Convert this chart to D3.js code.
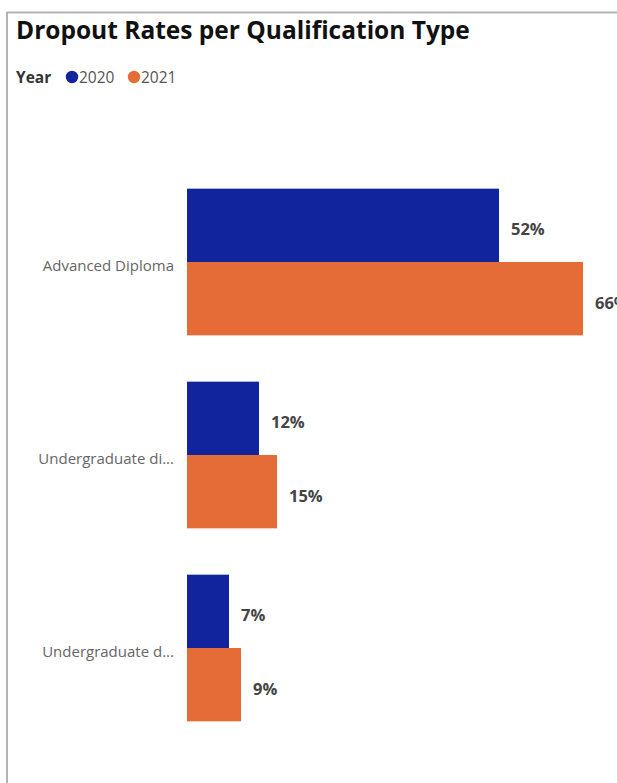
<!DOCTYPE html>
<html>
<head>
<meta charset="utf-8">
<script src="https://cdn.jsdelivr.net/npm/d3@7"></script>
<style>
  html, body { margin: 0; padding: 0; background: #fff; }
  svg { display: block; }
</style>
</head>
<body>
<svg id="chart" width="617" height="783"></svg>
<script>
// Qualification types (as shown on the axis) and dropout rates in percent
const categories = ["Advanced Diploma", "Undergraduate di...", "Undergraduate d..."];
const years = ["2020", "2021"];
const rates2020 = [52, 12, 7];
const rates2021 = [66, 15, 9];
const yearColors = ["#12239E", "#E66C37"];

const svg = d3.select("#chart");
const W = 617, H = 783;
const FONT = "'Open Sans', 'Noto Sans', sans-serif";

// Visual container frame (left and top edges)
svg.append("path")
  .attr("d", `M7,${H} V12.5 H${W}`)
  .attr("fill", "none")
  .attr("stroke", "#b4b4b4")
  .attr("stroke-width", 2);

// Title
svg.append("text")
  .attr("x", 16).attr("y", 39)
  .attr("font-family", FONT)
  .attr("font-weight", 700)
  .attr("font-size", 24.5)
  .attr("fill", "#111")
  .text("Dropout Rates per Qualification Type");

// Legend
const legend = svg.append("g")
  .attr("font-family", FONT)
  .attr("font-size", 15.5);
legend.append("text")
  .attr("x", 16).attr("y", 82.5)
  .attr("font-weight", 700).attr("fill", "#333")
  .text("Year");
const legendX = [72, 134];
years.forEach((yr, i) => {
  legend.append("circle")
    .attr("cx", legendX[i]).attr("cy", 77).attr("r", 6.2)
    .attr("fill", yearColors[i]);
  legend.append("text")
    .attr("x", legendX[i] + 7).attr("y", 82.5)
    .attr("fill", "#555")
    .text(yr);
});

// Scales
const x = d3.scaleLinear().domain([0, 100]).range([187, 787]);
const y = d3.scaleBand().domain(categories)
  .range([165.5, 744.5]).paddingInner(0.24).paddingOuter(0.12);
const ySub = d3.scaleBand().domain(years).range([0, y.bandwidth()]);

const rows = categories.map((c, i) => ({
  cat: c,
  values: [
    { year: years[0], v: rates2020[i] },
    { year: years[1], v: rates2021[i] }
  ]
}));

// Category axis (labels only)
const yAxis = d3.axisLeft(y).tickSize(0).tickPadding(13);
const axisG = svg.append("g")
  .attr("transform", `translate(${x(0)},0)`)
  .call(yAxis);
axisG.select(".domain").remove();
axisG.selectAll("text")
  .attr("font-family", FONT)
  .attr("font-size", 15)
  .attr("fill", "#666")
  .attr("dy", "0.62em");

// Bars
const groups = svg.append("g").selectAll("g")
  .data(rows).join("g")
  .attr("transform", d => `translate(0,${y(d.cat)})`);

groups.selectAll("rect")
  .data(d => d.values).join("rect")
  .attr("x", x(0))
  .attr("y", d => ySub(d.year))
  .attr("width", d => x(d.v) - x(0))
  .attr("height", ySub.bandwidth())
  .attr("fill", (d, i) => yearColors[i]);

// Data labels
groups.selectAll("text.val")
  .data(d => d.values).join("text")
  .attr("class", "val")
  .attr("x", d => x(d.v) + 12)
  .attr("y", d => ySub(d.year) + ySub.bandwidth() / 2 + 10)
  .attr("font-family", FONT)
  .attr("font-weight", 700)
  .attr("font-size", 16.5)
  .attr("fill", "#444")
  .text(d => d.v + "%");
</script>
</body>
</html>
